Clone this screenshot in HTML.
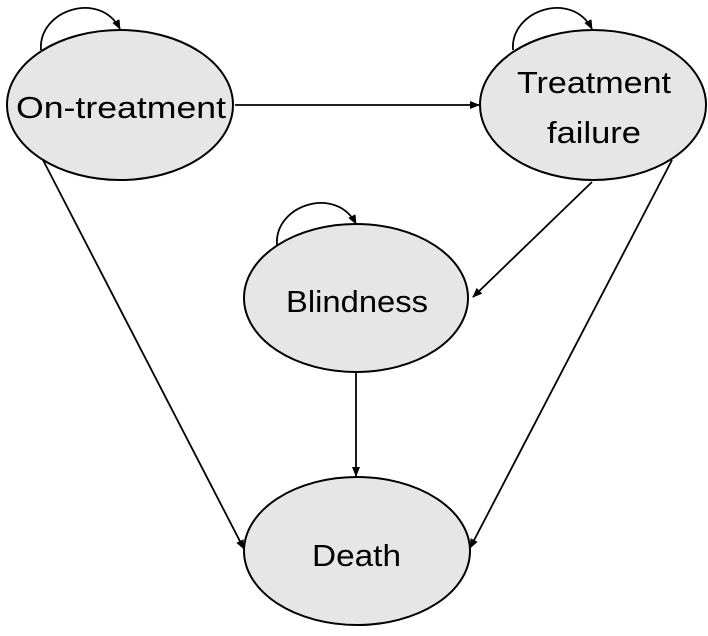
<!DOCTYPE html>
<html><head><meta charset="utf-8"><style>html,body{margin:0;padding:0;background:#fff}</style></head>
<body>
<svg width="708" height="631" viewBox="0 0 708 631" xmlns="http://www.w3.org/2000/svg">
<defs><marker id="a" markerWidth="10" markerHeight="10" refX="9" refY="5" orient="auto" markerUnits="userSpaceOnUse"><path d="M0,1 L10,5 L0,9 z" fill="#000"/></marker></defs>
<g fill="#e6e6e6" stroke="#000" stroke-width="2">
<ellipse cx="120" cy="105" rx="113" ry="75"/>
<ellipse cx="593" cy="105" rx="113" ry="75"/>
<ellipse cx="356" cy="298" rx="112" ry="74"/>
<ellipse cx="357" cy="551" rx="113" ry="74"/>
</g>
<g fill="none" stroke="#000" stroke-width="1.8" marker-end="url(#a)">
<path d="M41,50 C38,10 100,-10 120,29"/>
<path d="M513,50 C510,10 572,-10 592,29"/>
<path d="M277,245 C274,205 336,185 356,224"/>
<line x1="235" y1="105" x2="479" y2="105"/>
<line x1="43" y1="160" x2="244" y2="549"/>
<line x1="592" y1="182" x2="473" y2="297"/>
<line x1="672" y1="160" x2="470" y2="548"/>
<line x1="356" y1="373" x2="356" y2="476"/>
</g>
<g font-family="Liberation Sans, sans-serif" font-size="31" fill="#000">
<text x="16" y="118" textLength="210" lengthAdjust="spacingAndGlyphs">On-treatment</text>
<text x="517" y="93" textLength="154" lengthAdjust="spacingAndGlyphs">Treatment</text>
<text x="547" y="143" textLength="94" lengthAdjust="spacingAndGlyphs">failure</text>
<text x="286" y="312" textLength="142" lengthAdjust="spacingAndGlyphs">Blindness</text>
<text x="312" y="566" textLength="89" lengthAdjust="spacingAndGlyphs">Death</text>
</g>
</svg>
</body></html>
